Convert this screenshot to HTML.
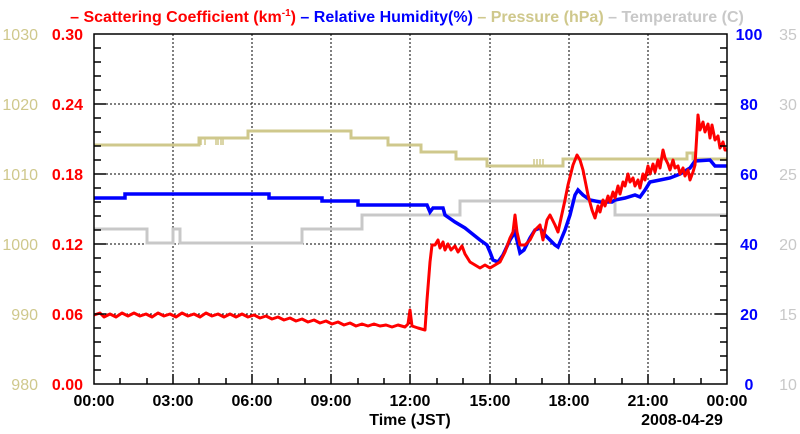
<!DOCTYPE html>
<html><head><meta charset="utf-8"><style>
body{margin:0;background:#fff;}
svg{display:block;font-family:"Liberation Sans",sans-serif;}
</style></head><body>
<svg width="800" height="434" viewBox="0 0 800 434" xmlns="http://www.w3.org/2000/svg">
<rect width="800" height="434" fill="#fff"/>
<text y="22" font-size="16" font-weight="bold" text-anchor="middle" x="407"><tspan fill="#ff0000">– Scattering Coefficient (km<tspan font-size="10" dy="-6">-1</tspan><tspan dy="6">)</tspan></tspan><tspan fill="#0000ff"> – Relative Humidity(%)</tspan><tspan fill="#cfc88c"> – Pressure (hPa)</tspan><tspan fill="#c8c8c8"> – Temperature (C)</tspan></text>
<g stroke="#000" stroke-width="1" stroke-dasharray="2,2">
<line x1="173" y1="34" x2="173" y2="384"/><line x1="252" y1="34" x2="252" y2="384"/><line x1="331" y1="34" x2="331" y2="384"/><line x1="410" y1="34" x2="410" y2="384"/><line x1="490" y1="34" x2="490" y2="384"/><line x1="569" y1="34" x2="569" y2="384"/><line x1="648" y1="34" x2="648" y2="384"/>
<line x1="94" y1="104" x2="727" y2="104"/><line x1="94" y1="174" x2="727" y2="174"/><line x1="94" y1="244" x2="727" y2="244"/><line x1="94" y1="314" x2="727" y2="314"/>
</g>
<polyline fill="none" stroke="#c8c8c8" stroke-width="3" points="94,229 147,229 147,243 173,243 173,229 180,229 180,243 302,243 302,229 362,229 362,215 460,215 460,201 615,201 615,215 727,215"/>
<polyline fill="none" stroke="#cfc88c" stroke-width="3" stroke-linejoin="miter" points="94,145 199,145 199,138 248,138 248,131 351,131 351,138 388,138 388,145 421,145 421,152 456,152 456,159 487,159 487,166 563,166 563,159 687,159 687,153 693,153 693,159 727,159"/>
<g stroke="#cfc88c" stroke-width="1.5"><path d="M201,145v-7M205,145v-7M216,145v-7M218,145v-7M221,145v-7M223,145v-7M534,166v-7M537,166v-7M540,166v-7M543,166v-7"/></g>
<polyline fill="none" stroke="#0000ff" stroke-width="3.5" points="94,198 125,198 125,194 269,194 269,198 322,198 322,201 358,201 358,205 427,205 430,212 433,208 443,208 445,215 455,222 465,228 470,232 480,240 487,245 490,252 493,260 498,262 503,255 510,240 515,232 520,253 524,250 530,238 535,230 540,228 545,235 550,240 555,245 558,247 565,230 570,215 575,195 578,190 583,195 590,200 600,202 612,202 615,200 625,198 635,195 640,197 645,190 650,182 660,180 670,178 680,174 690,168 695,161 710,160 715,166 727,166"/>
<polyline fill="none" stroke="#ff0000" stroke-width="3" stroke-linejoin="round" points="94,315 100,313 104,317 110,314 116,317 122,313 128,316 134,313 140,316 146,314 152,317 158,313 164,316 170,314 176,317 182,313 188,316 194,314 200,317 206,313 212,316 218,314 224,317 230,314 236,317 242,314 248,317 254,315 260,318 266,316 272,319 278,317 284,320 290,318 296,321 302,319 308,322 314,320 320,323 326,321 332,324 338,322 344,325 350,323 356,326 362,324 368,326 374,324 380,326 386,325 392,327 398,325 405,327 408,324 410,310 412,326 418,328 425,330 427,300 430,262 432,245 435,245 438,240 440,248 443,242 445,250 448,244 451,250 455,246 458,252 462,246 465,254 470,262 475,265 480,268 485,265 490,268 495,265 500,262 505,252 510,238 513,232 515,215 517,232 520,245 525,245 530,240 535,230 540,225 543,240 547,220 550,215 555,225 558,232 565,200 568,185 573,165 577,155 580,160 583,170 588,195 592,210 595,218 598,206 600,212 603,200 605,206 608,196 610,202 613,192 615,198 618,186 620,194 623,182 625,186 628,174 630,182 633,178 635,186 638,180 640,188 643,174 645,180 648,166 650,174 653,164 655,172 658,160 660,168 663,150 665,158 668,164 670,170 673,160 675,168 678,166 680,174 683,168 685,176 688,170 690,180 693,172 695,165 698,115 700,130 703,122 705,132 708,124 710,138 712,125 715,140 718,136 720,148 723,142 725,150 727,150"/>
<rect x="94" y="34" width="633" height="350" fill="none" stroke="#000" stroke-width="1.5"/>
<g stroke="#000" stroke-width="1.5">
<path d="M94,48h7M94,62h7M94,76h7M94,90h7M94,104h12M94,118h7M94,132h7M94,146h7M94,160h7M94,174h12M94,188h7M94,202h7M94,216h7M94,230h7M94,244h12M94,258h7M94,272h7M94,286h7M94,300h7M94,314h12M94,328h7M94,342h7M94,356h7M94,370h7"/>
<path d="M727,48h-7M727,62h-7M727,76h-7M727,90h-7M727,104h-12M727,118h-7M727,132h-7M727,146h-7M727,160h-7M727,174h-12M727,188h-7M727,202h-7M727,216h-7M727,230h-7M727,244h-12M727,258h-7M727,272h-7M727,286h-7M727,300h-7M727,314h-12M727,328h-7M727,342h-7M727,356h-7M727,370h-7"/>
<path d="M120,384v-6M147,384v-6M173,384v-10M199,384v-6M226,384v-6M252,384v-10M278,384v-6M305,384v-6M331,384v-10M358,384v-6M384,384v-6M410,384v-10M437,384v-6M463,384v-6M490,384v-10M516,384v-6M542,384v-6M569,384v-10M595,384v-6M622,384v-6M648,384v-10M674,384v-6M701,384v-6"/>
</g>
<g font-size="16" text-anchor="end">
<g fill="#cfc88c"><text x="38" y="40">1030</text><text x="38" y="110">1020</text><text x="38" y="180">1010</text><text x="38" y="250">1000</text><text x="38" y="320">990</text><text x="38" y="390">980</text></g>
<g fill="#ff0000" font-weight="bold"><text x="83" y="40">0.30</text><text x="83" y="110">0.24</text><text x="83" y="180">0.18</text><text x="83" y="250">0.12</text><text x="83" y="320">0.06</text><text x="83" y="390">0.00</text></g>
</g>
<g font-size="16">
<g fill="#0000ff" font-weight="bold" text-anchor="middle"><text x="749" y="40">100</text><text x="749" y="110">80</text><text x="749" y="180">60</text><text x="749" y="250">40</text><text x="749" y="320">20</text><text x="749" y="390">0</text></g>
<g fill="#c8c8c8" text-anchor="middle"><text x="788" y="40">35</text><text x="788" y="110">30</text><text x="788" y="180">25</text><text x="788" y="250">20</text><text x="788" y="320">15</text><text x="788" y="390">10</text></g>
</g>
<g font-size="16" font-weight="bold" text-anchor="middle" fill="#000">
<text x="94" y="406">00:00</text><text x="173" y="406">03:00</text><text x="252" y="406">06:00</text><text x="331" y="406">09:00</text><text x="410" y="406">12:00</text><text x="490" y="406">15:00</text><text x="569" y="406">18:00</text><text x="648" y="406">21:00</text><text x="727" y="406">00:00</text>
<text x="410" y="425">Time (JST)</text><text x="682" y="425">2008-04-29</text>
</g>
</svg>
</body></html>
